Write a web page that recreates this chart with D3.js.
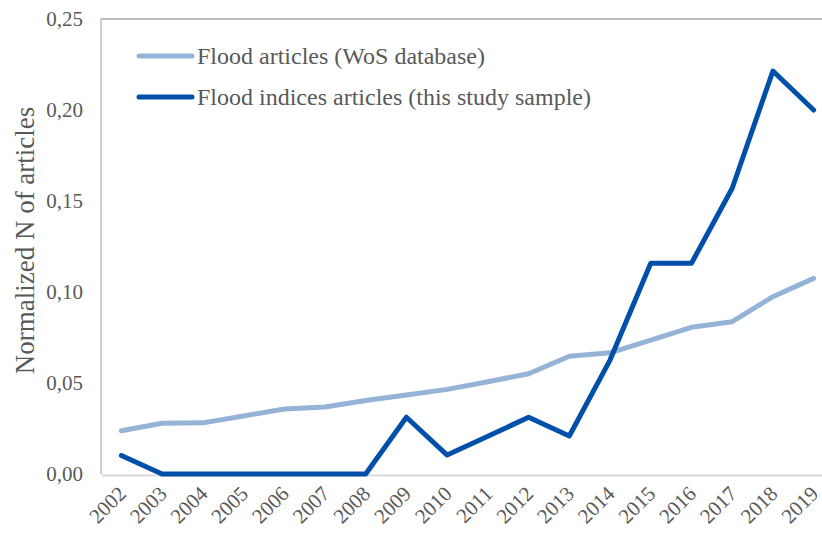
<!DOCTYPE html>
<html>
<head>
<meta charset="utf-8">
<script src="https://cdn.jsdelivr.net/npm/d3@7"></script>
<style>
  body { margin: 0; background: #fff; }
  svg, svg text { font-family: "Liberation Serif", "Times New Roman", Times, serif !important; }
</style>
</head>
<body>
<div id="myChart"></div>
<script>
var years = ["2002", "2003", "2004", "2005", "2006", "2007", "2008", "2009", "2010",
  "2011", "2012", "2013", "2014", "2015", "2016", "2017", "2018", "2019"];

var wosArticles = [0.0238, 0.0279, 0.0281, 0.0319, 0.0357, 0.0368, 0.0404, 0.0434, 0.0465,
  0.0507, 0.0551, 0.0647, 0.0666, 0.0735, 0.0806, 0.0837, 0.0974, 0.1075];

var sampleArticles = [0.0102, 0, 0, 0, 0, 0, 0, 0.0312, 0.0104,
  0.0207, 0.0312, 0.0209, 0.0626, 0.1158, 0.1158, 0.1570, 0.2214, 0.2000];

var yTicks = [0, 0.05, 0.10, 0.15, 0.20, 0.25];

var seriesNames = ["Flood articles (WoS database)", "Flood indices articles (this study sample)"];
var seriesColors = ["#95b3d7", "#0050aa"];

var width = 822, height = 534;
var plotLeft = 101, plotTop = 19, plotBottom = 474, plotRight = 834;

var svg = d3.select("#myChart").append("svg")
  .attr("width", width)
  .attr("height", height);

var x = d3.scaleBand().domain(years).range([plotLeft, plotRight]).padding(0);
var y = d3.scaleLinear().domain([0, 0.25]).range([plotBottom, plotTop]);

// plot frame
svg.append("line").attr("x1", plotLeft).attr("x2", plotRight).attr("y1", plotTop).attr("y2", plotTop)
  .attr("stroke", "#a6a6a6").attr("stroke-width", 1.5);
svg.append("line").attr("x1", plotLeft).attr("x2", plotLeft).attr("y1", plotTop).attr("y2", plotBottom)
  .attr("stroke", "#bfbfbf").attr("stroke-width", 1.5);

// y axis
var yAxis = svg.append("g")
  .attr("transform", "translate(" + plotLeft + ",0)")
  .call(d3.axisLeft(y).tickValues(yTicks).tickSize(0).tickPadding(18)
    .tickFormat(function(d) { return d3.format(".2f")(d).replace(".", ","); }));
yAxis.select(".domain").remove();
yAxis.selectAll("text").attr("font-size", "21px").attr("fill", "#595959");

// x axis
var xAxis = svg.append("g")
  .attr("transform", "translate(0," + plotBottom + ")")
  .call(d3.axisBottom(x).tickSize(0).tickPadding(0));
xAxis.select(".domain").attr("stroke", "#d9d9d9").attr("stroke-width", 2)
  .attr("transform", "translate(0,1)");
xAxis.selectAll("text")
  .attr("font-size", "21px").attr("fill", "#595959")
  .attr("text-anchor", "end")
  .attr("y", 0)
  .attr("dy", null)
  .attr("transform", "translate(6,21) rotate(-45)");

// y title
svg.append("text")
  .attr("transform", "translate(34," + ((plotTop + plotBottom) / 2 - 6) + ") rotate(-90)")
  .attr("text-anchor", "middle")
  .attr("font-size", "27px")
  .attr("fill", "#595959")
  .text("Normalized N of articles");

var line = d3.line()
  .x(function(d, i) { return x(years[i]) + x.bandwidth() / 2; })
  .y(function(d) { return y(d); });

[wosArticles, sampleArticles].forEach(function(s, i) {
  svg.append("path")
    .attr("d", line(s))
    .attr("fill", "none")
    .attr("stroke", seriesColors[i])
    .attr("stroke-width", 5)
    .attr("stroke-linejoin", "round")
    .attr("stroke-linecap", "round");
});

// legend
var legend = svg.append("g");
seriesNames.forEach(function(name, i) {
  var ly = 56 + i * 41;
  legend.append("line")
    .attr("x1", 139).attr("x2", 192).attr("y1", ly).attr("y2", ly)
    .attr("stroke", seriesColors[i]).attr("stroke-width", 5)
    .attr("stroke-linecap", "round");
  legend.append("text")
    .attr("x", 197).attr("y", ly)
    .attr("dy", "0.35em")
    .attr("font-size", "24px")
    .attr("fill", "#595959")
    .text(name);
});
</script>
</body>
</html>
